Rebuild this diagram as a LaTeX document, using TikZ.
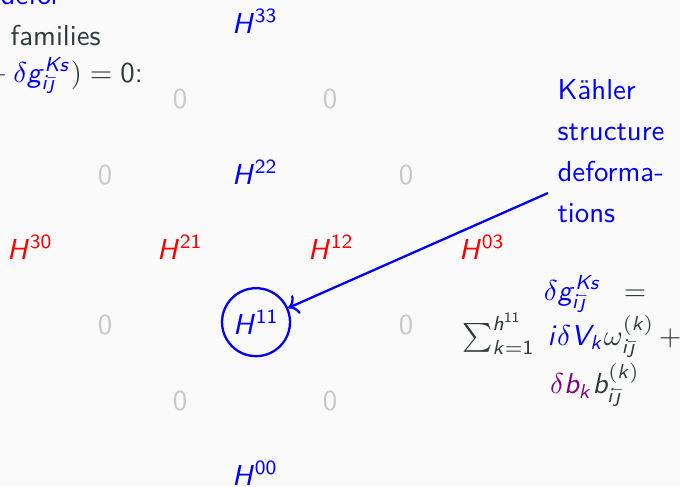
\documentclass[tikz,border=0pt]{standalone}
\usepackage{amsmath}
\usetikzlibrary{arrows.meta,positioning}
\definecolor{HdBg}{HTML}{FAFAFA}
\definecolor{HdText}{HTML}{2F3A3A}
\definecolor{HdBlue}{HTML}{0000FF}
\definecolor{HdRed}{HTML}{FF0000}
\definecolor{HdGrey}{HTML}{C8C8C8}
\definecolor{HdPurple}{HTML}{800080}
% sans serif letters and digits in math, as on the slide
\DeclareSymbolFont{sfletters}{OT1}{cmss}{m}{sl}
\DeclareSymbolFont{sfdigits}{OT1}{cmss}{m}{n}
\def\sfletter#1{\ifx#1\relax\else\DeclareMathSymbol{#1}{\mathalpha}{sfletters}{`#1}\expandafter\sfletter\fi}
\def\sfdigit#1{\ifx#1\relax\else\DeclareMathSymbol{#1}{\mathalpha}{sfdigits}{`#1}\expandafter\sfdigit\fi}
\sfletter abcdefghijklmnopqrstuvwxyzABCDEFGHIJKLMNOPQRSTUVWXYZ\relax
\sfdigit 0123456789\relax
\DeclareMathSymbol{\sfj}{\mathalpha}{sfletters}{"11}

\begin{document}
\begin{tikzpicture}[x=0.3472pt,y=-0.3472pt,
    hd/.style={anchor=base,inner sep=1pt},
    hblue/.style={hd,text=HdBlue},
    hred/.style={hd,text=HdRed},
    hzero/.style={hd,text=HdGrey,font=\sffamily},
    note/.style={inner sep=0pt,font=\sffamily,text=HdText},
    arr/.style={->,thick,HdBlue}
  ]
  \useasboundingbox (0,0) rectangle (680,486);
  \fill[HdBg] (0,0) rectangle (680,486);
  \clip (0,0) rectangle (680,486);
  % text cut off on the left
  \node[note,anchor=base west,text=HdBlue] (defor) at (0,4) {defor};
  \node[note,anchor=base west] (fam) at (10,45) {families};
  \node[note,anchor=base west] (flat) at (-22.5,82) {${}+{\color{HdBlue}\delta g^{Ks}_{i\bar\sfj}})=0$:};
  % hodge diamond
  \node[hblue] (h33) at (255,33) {$H^{33}$};
  \node[hzero] (h32) at (180,108) {0};
  \node[hzero] (h23) at (330,108) {0};
  \node[hzero] (h31) at (105,184) {0};
  \node[hblue] (h22) at (255,184) {$H^{22}$};
  \node[hzero] (h13) at (406,184) {0};
  \node[hred] (h30) at (30,259) {$H^{30}$};
  \node[hred] (h21) at (180,259) {$H^{21}$};
  \node[hred] (h12) at (331,259) {$H^{12}$};
  \node[hred] (h03) at (482,259) {$H^{03}$};
  \node[hzero] (h20) at (105,334) {0};
  \node[hblue,draw=HdBlue,thick,circle,minimum size=23.6pt] (h11) at (256,334) {$H^{11}$};
  \node[hzero] (h02) at (406,334) {0};
  \node[hzero] (h10) at (180,410) {0};
  \node[hzero] (h01) at (330,410) {0};
  \node[hblue] (h00) at (255,485) {$H^{00}$};
  % kahler moduli
  \node[note,text=HdBlue,align=left,anchor=north west] (kahler) at (557,79)
    {Kähler\\[2.2pt]structure\\[2.2pt]deforma-\\[2.2pt]tions};
  \coordinate (kfoot) at (548,193);
  \draw[arr] (kfoot) -- (h11);
  \node[note,align=center,anchor=north] (gks) at (595,275) {%
    ${\color{HdBlue}\delta g^{Ks}_{i\bar\sfj}}\hspace{5pt}=$\\[-0.7pt]
    $\sum_{k=1}^{h^{11}}\;{\color{HdBlue}i\delta V_k}\omega^{(k)}_{i\bar\sfj}\,+$\rule{16pt}{0pt}\\[1pt]
    ${\color{HdPurple}\delta b_k}b^{(k)}_{i\bar\sfj}$};
\end{tikzpicture}
\end{document}
